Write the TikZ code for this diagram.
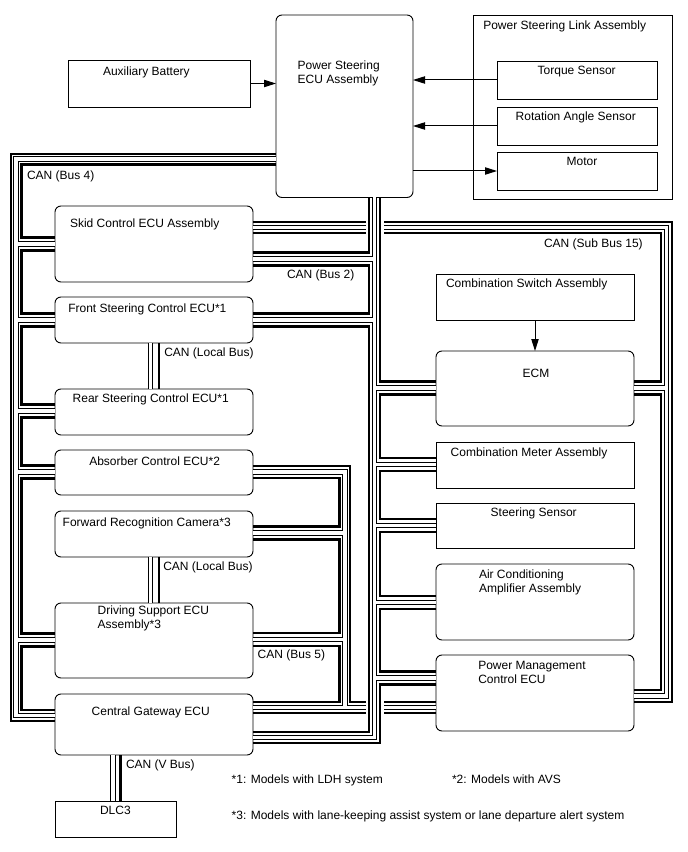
\documentclass[tikz,border=0pt]{standalone}
\usepackage{fontspec}
\setmainfont{Liberation Sans}
\usetikzlibrary{arrows.meta,fit}
\begin{document}
\begin{tikzpicture}[x=0.75pt,y=-0.75pt,
  box/.style={draw,line width=0.7pt,inner sep=0pt,outer sep=0pt},
  rbox/.style={box,rounded corners=4.5pt},
  txt/.style={inner sep=0pt,outer sep=0pt,anchor=base west,align=left,font=\fontsize{9}{10.7}\selectfont},
  sbus/.style={line width=1.6pt},
  hb/.style={line width=4.2pt},
  hw/.style={line width=2.6pt,white},
  arr/.style={line width=0.75pt,-{Triangle[length=9pt,width=5.5pt]}},
]
\useasboundingbox (0,0) rectangle (688,852);
% ---------------- boxes ----------------
\node[box, fit={(68,60) (250,107)}] (aux) {};
\node[rbox, fit={(276,15) (413,197.5)}] (psecu) {};
\node[box, fit={(473,15) (672,199)}] (link) {};
\node[box, fit={(497,61) (657,99)}] (torque) {};
\node[box, fit={(497,107) (657,145)}] (rot) {};
\node[box, fit={(497,152) (657,190)}] (motor) {};
\node[rbox, fit={(55,206) (253,282)}] (skid) {};
\node[rbox, fit={(55,297) (253,343)}] (front) {};
\node[rbox, fit={(55,389) (253,435)}] (rear) {};
\node[rbox, fit={(55,450) (253,495)}] (absorb) {};
\node[rbox, fit={(55,511) (253,557)}] (camera) {};
\node[rbox, fit={(55,603) (253,678)}] (drive) {};
\node[rbox, fit={(55,694) (253,755)}] (cgw) {};
\node[box, fit={(55,801) (176,837)}] (dlc) {};
\node[box, fit={(436,274) (634,320)}] (cswitch) {};
\node[rbox, fit={(436,351) (634,426)}] (ecm) {};
\node[box, fit={(436,442) (634,488)}] (cmeter) {};
\node[box, fit={(436,503) (634,548)}] (ssensor) {};
\node[rbox, fit={(436,564) (634,640)}] (aircon) {};
\node[rbox, fit={(436,655) (634,731)}] (pmgmt) {};
% ---------------- texts ----------------
\node[txt] (auxT) at (103,76) {Auxiliary Battery};
\node[txt] (psecuT) at (297.7,83.6) {Power Steering\\ECU Assembly};
\node[txt] (linkT) at (483.3,29.3) {Power Steering Link Assembly};
\node[txt] (torqueT) at (537.7,74.3) {Torque Sensor};
\node[txt] (rotT) at (515.7,120.3) {Rotation Angle Sensor};
\node[txt] (motorT) at (566.7,165.3) {Motor};
\node[txt] (skidT) at (70,228) {Skid Control ECU Assembly};
\node[txt] (frontT) at (68.3,312) {Front Steering Control ECU*1};
\node[txt] (rearT) at (72.7,402.6) {Rear Steering Control ECU*1};
\node[txt] (absorbT) at (89.3,465.3) {Absorber Control ECU*2};
\node[txt] (cameraT) at (62.7,526.3) {Forward Recognition Camera*3};
\node[txt] (driveT) at (97.7,628.6) {Driving Support ECU\\Assembly*3};
\node[txt] (cgwT) at (91.7,715.3) {Central Gateway ECU};
\node[txt] (dlcT) at (100,814.3) {DLC3};
\node[txt] (cswitchT) at (446,287.6) {Combination Switch Assembly};
\node[txt] (ecmT) at (522.7,377.6) {ECM};
\node[txt] (cmeterT) at (450.7,456.3) {Combination Meter Assembly};
\node[txt] (ssensorT) at (490.7,516.3) {Steering Sensor};
\node[txt] (airconT) at (479,592.6) {Air Conditioning\\Amplifier Assembly};
\node[txt] (pmgmtT) at (478.3,683.6) {Power Management\\Control ECU};
\node[txt] (bus4L) at (27,180) {CAN (Bus 4)};
\node[txt] (bus2L) at (287,278.6) {CAN (Bus 2)};
\node[txt] (local1L) at (164.3,356.3) {CAN (Local Bus)};
\node[txt] (local2L) at (163.3,570.3) {CAN (Local Bus)};
\node[txt] (bus5L) at (257.7,658.6) {CAN (Bus 5)};
\node[txt] (sub15L) at (544,247.6) {CAN (Sub Bus 15)};
\node[txt] (vbusL) at (126,768.6) {CAN (V Bus)};
\node[txt] (note1) at (231.7,783.6) {*1: Models with LDH system};
\node[txt] (note2) at (452,783.6) {*2: Models with AVS};
\node[txt] (note3) at (231.7,819.6) {*3: Models with lane-keeping assist system or lane departure alert system};
% ---------------- arrows ----------------
\draw[arr] (aux.east) -- (aux.east -| psecu.west);
\draw[arr] (torque.west) -- (torque.west -| psecu.east);
\draw[arr] (rot.west) -- (rot.west -| psecu.east);
\draw[arr] (motor.west -| psecu.east) -- (motor.west);
\draw[arr] (cswitch.south) -- (ecm.north);
% ---------------- solid bus lines ----------------
\draw[sbus]
 % Bus 4
 (psecu.west |- 0,154) -- (11,154) -- (11,721) -- (cgw.west |- 0,721)
 (psecu.west |- 0,164.5) -- (21.5,164.5) -- (21.5,237.5) -- (skid.west |- 0,237.5)
 (skid.west |- 0,250.5) -- (21.5,250.5) -- (21.5,313.5) -- (front.west |- 0,313.5)
 (front.west |- 0,326.5) -- (21.5,326.5) -- (21.5,404.5) -- (rear.west |- 0,404.5)
 (rear.west |- 0,417.5) -- (21.5,417.5) -- (21.5,465.5) -- (absorb.west |- 0,465.5)
 (absorb.west |- 0,478.5) -- (21.5,478.5) -- (21.5,633.5) -- (drive.west |- 0,633.5)
 (drive.west |- 0,646.5) -- (21.5,646.5) -- (21.5,710) -- (cgw.west |- 0,710)
 % Bus 2
 (psecu.south -| 369,0) -- (369,252.5) -- (skid.east |- 0,252.5)
 (skid.east |- 0,265.5) -- (369,265.5) -- (369,313.5) -- (front.east |- 0,313.5)
 (front.east |- 0,326.5) -- (369,326.5) -- (369,732) -- (cgw.east |- 0,732)
 (psecu.south -| 380,0) -- (380,381.5) -- (ecm.west |- 0,381.5)
 (ecm.west |- 0,394.5) -- (380,394.5) -- (380,458) -- (cmeter.west |- 0,458)
 (cmeter.west |- 0,471) -- (380,471) -- (380,519) -- (ssensor.west |- 0,519)
 (ssensor.west |- 0,532) -- (380,532) -- (380,596) -- (aircon.west |- 0,596)
 (aircon.west |- 0,609) -- (380,609) -- (380,671.5) -- (pmgmt.west |- 0,671.5)
 (pmgmt.west |- 0,684.5) -- (380,684.5) -- (380,743) -- (cgw.east |- 0,743)
 % Sub Bus 15
 (skid.east |- 0,222) -- (366,222)
 (384,222) -- (672,222) -- (672,702) -- (pmgmt.east |- 0,702)
 (skid.east |- 0,233) -- (366,233)
 (384,233) -- (661,233) -- (661,381.5) -- (ecm.east |- 0,381.5)
 (ecm.east |- 0,394.5) -- (661,394.5) -- (661,690) -- (pmgmt.east |- 0,690)
 % Bus 5
 (absorb.east |- 0,466) -- (350,466) -- (350,702) -- (366,702)
 (384,702) -- (pmgmt.west |- 0,702)
 (absorb.east |- 0,478) -- (339.5,478) -- (339.5,526.5) -- (camera.east |- 0,526.5)
 (camera.east |- 0,539.5) -- (339.5,539.5) -- (339.5,633) -- (drive.east |- 0,633)
 (drive.east |- 0,646) -- (339.5,646) -- (339.5,702) -- (cgw.east |- 0,702)
 (cgw.east |- 0,713) -- (366,713)
 (384,713) -- (pmgmt.west |- 0,713)
 % local buses
 (front.south -| 159,0) -- (rear.north -| 159,0)
 (camera.south -| 159,0) -- (drive.north -| 159,0)
 (cgw.south -| 120.5,0) -- (dlc.north -| 120.5,0);
% ---------------- hollow bus lines ----------------
\def\hollowpaths{
 (psecu.west |- 0,159) -- (16,159) -- (16,715.5) -- (cgw.west |- 0,715.5)
 (16,244) -- (skid.west |- 0,244)
 (16,320) -- (front.west |- 0,320)
 (16,411) -- (rear.west |- 0,411)
 (16,472) -- (absorb.west |- 0,472)
 (16,640) -- (drive.west |- 0,640)
 (psecu.south -| 374.5,0) -- (374.5,737.5) -- (cgw.east |- 0,737.5)
 (374.5,259) -- (skid.east |- 0,259)
 (374.5,320) -- (front.east |- 0,320)
 (374.5,388) -- (ecm.west |- 0,388)
 (374.5,464.5) -- (cmeter.west |- 0,464.5)
 (374.5,525.5) -- (ssensor.west |- 0,525.5)
 (374.5,602.5) -- (aircon.west |- 0,602.5)
 (374.5,678) -- (pmgmt.west |- 0,678)
 (skid.east |- 0,227.5) -- (366,227.5)
 (384,227.5) -- (666.5,227.5) -- (666.5,696) -- (pmgmt.east |- 0,696)
 (666.5,388) -- (ecm.east |- 0,388)
 (absorb.east |- 0,472) -- (345,472) -- (345,707.5)
 (cgw.east |- 0,707.5) -- (366,707.5)
 (384,707.5) -- (pmgmt.west |- 0,707.5)
 (345,533) -- (camera.east |- 0,533)
 (345,639.5) -- (drive.east |- 0,639.5)
 (front.south -| 150.5,0) -- (rear.north -| 150.5,0)
 (camera.south -| 150.5,0) -- (drive.north -| 150.5,0)
 (cgw.south -| 113,0) -- (dlc.north -| 113,0)
}
\draw[hb] \hollowpaths;
\draw[hw] \hollowpaths;
\end{tikzpicture}
\end{document}
